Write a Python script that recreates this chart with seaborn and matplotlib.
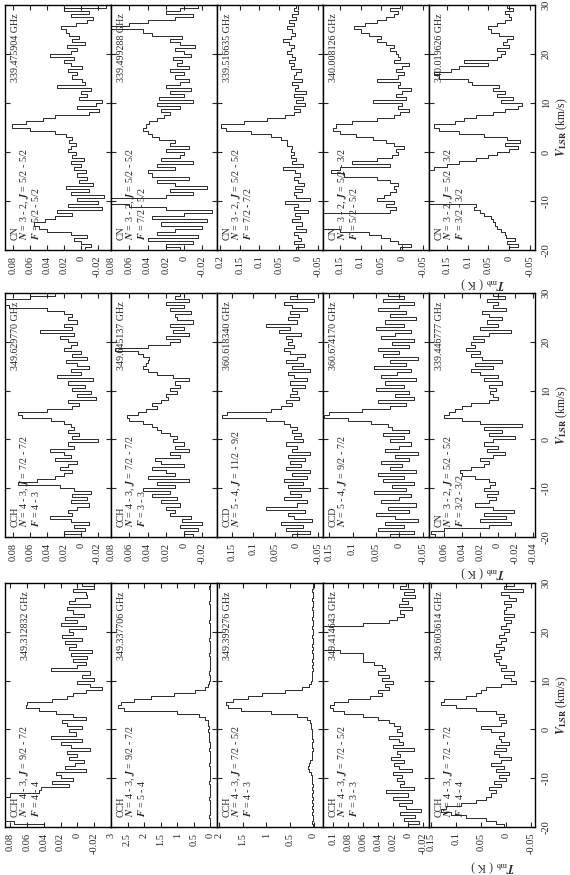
import numpy as np
import matplotlib
matplotlib.use('Agg')
import matplotlib.pyplot as plt
from matplotlib.ticker import FixedLocator, FixedFormatter
import seaborn as sns

sns.set_theme(style='ticks')
plt.rcParams['font.family'] = ['Liberation Serif', 'DejaVu Serif']
plt.rcParams['mathtext.fontset'] = 'stix'

# channel edges in V_LSR (km/s), 0.625 km/s channels
v_edges = np.linspace(-20, 30, 81)

# ---- spectra (Tmb, K), one value per channel, from -20 km/s upward ----
# right column of the original figure (CN)
cn_339475904 = [-0.005, -0.012, 0.000, 0.008, -0.008, 0.012, 0.040, 0.050,
                0.055, 0.042, 0.030, 0.010, 0.028, -0.025, 0.015, -0.020,
                0.005, -0.028, 0.012, -0.010, 0.018, -0.015, 0.002, -0.008,
                0.004, -0.006, 0.008, 0.000, 0.012, -0.004, 0.010, 0.006,
                0.015, 0.012, 0.006, 0.014, 0.010, 0.018, 0.030, 0.060,
                0.082, 0.065, 0.045, 0.030, -0.010, -0.022, 0.005, -0.018,
                -0.025, 0.002, -0.008, 0.000, -0.012, 0.028, -0.005, -0.002,
                0.010, 0.005, 0.015, -0.002, 0.012, 0.020, 0.008, 0.036,
                0.012, 0.005, 0.016, -0.005, 0.010, 0.002, 0.014, 0.018,
                0.024, 0.006, -0.008, -0.015, 0.012, -0.010, 0.020, -0.030]
cn_339499288 = [0.005, 0.020, -0.010, 0.040, -0.015, 0.030, 0.010, -0.020,
                0.025, -0.025, 0.035, 0.000, -0.030, 0.020, 0.060, 0.095,
                0.090, 0.020, -0.010, 0.015, -0.025, 0.010, 0.030, -0.005,
                0.035, 0.040, 0.010, 0.030, -0.010, 0.025, 0.005, 0.000,
                0.020, -0.005, 0.015, 0.010, 0.028, 0.035, 0.040, 0.045,
                0.042, 0.038, 0.030, 0.022, 0.015, 0.025, 0.005, 0.030,
                -0.010, 0.028, 0.000, 0.015, -0.008, 0.020, 0.005, -0.005,
                0.010, 0.000, 0.015, -0.005, 0.008, 0.002, 0.012, -0.008,
                0.000, 0.010, -0.012, 0.005, 0.015, 0.002, 0.035, 0.045,
                0.095, 0.060, 0.040, 0.010, -0.010, 0.020, 0.005, -0.015]
cn_339516635 = [0.005, -0.015, 0.010, -0.008, 0.000, 0.012, -0.020, 0.005,
                -0.010, 0.015, -0.005, 0.008, -0.025, 0.010, 0.000, 0.035,
                -0.030, 0.005, 0.012, -0.010, 0.008, -0.015, 0.002, 0.010,
                -0.005, 0.008, 0.040, -0.012, 0.015, 0.005, 0.018, 0.010,
                0.020, 0.015, 0.028, 0.030, 0.045, 0.070, 0.120, 0.185,
                0.198, 0.140, 0.080, 0.035, 0.010, -0.005, 0.012, -0.018,
                0.005, -0.012, 0.010, -0.020, 0.008, 0.000, 0.015, -0.010,
                0.012, 0.005, -0.008, 0.020, 0.010, 0.025, 0.008, 0.015,
                0.030, 0.018, 0.010, 0.025, 0.040, 0.020, 0.008, 0.015,
                0.030, 0.010, 0.025, 0.005, 0.015, 0.000, 0.010, 0.005]
cn_340008126 = [0.005, -0.020, 0.010, 0.030, 0.050, 0.080, 0.150, 0.260,
                0.260, 0.260, 0.260, 0.260, 0.030, 0.015, 0.040, 0.020,
                0.060, 0.045, 0.030, 0.015, 0.020, 0.010, 0.030, 0.060,
                0.140, 0.170, 0.150, 0.030, 0.120, 0.060, 0.025, 0.010,
                0.015, -0.005, 0.020, 0.040, 0.070, 0.110, 0.150, 0.165,
                0.160, 0.120, 0.060, 0.020, 0.005, -0.015, 0.010, 0.000,
                0.070, -0.010, 0.015, 0.000, -0.020, 0.010, 0.005, 0.060,
                0.010, -0.005, 0.015, 0.000, -0.015, 0.020, 0.005, 0.010,
                0.015, 0.030, 0.020, 0.040, 0.060, 0.050, 0.080, 0.100,
                0.115, 0.090, 0.060, 0.040, 0.020, 0.010, 0.030, 0.005]
cn_340019626 = [0.000, -0.020, 0.005, -0.015, 0.008, 0.010, 0.020, 0.030,
                0.035, 0.040, 0.045, 0.060, 0.070, 0.085, 0.080, 0.260,
                0.260, 0.260, 0.260, 0.260, 0.260, 0.260, 0.260, 0.260,
                0.260, 0.260, 0.180, 0.150, 0.120, 0.080, 0.050, 0.030,
                0.000, -0.020, 0.010, -0.025, 0.005, 0.060, 0.120, 0.170,
                0.180, 0.130, 0.110, 0.080, 0.040, 0.010, -0.020, -0.030,
                0.020, -0.010, 0.030, 0.010, 0.040, 0.025, 0.090, 0.100,
                0.170, 0.180, 0.140, 0.120, 0.050, 0.110, 0.030, 0.020,
                0.010, 0.030, 0.000, 0.015, 0.005, -0.010, 0.025, 0.045,
                0.050, 0.030, 0.010, -0.005, 0.000, 0.010, -0.010, 0.005]

# middle column
cch_349629770 = [0.000, 0.020, -0.005, 0.008, -0.010, 0.012, 0.036, 0.010,
                 0.015, 0.005, -0.010, 0.012, -0.008, 0.010, -0.012, 0.008,
                 0.025, 0.074, 0.052, 0.030, 0.020, 0.010, 0.025, 0.015,
                 0.005, 0.030, 0.012, 0.020, 0.036, 0.008, 0.015, -0.020,
                 0.010, 0.002, 0.015, 0.008, 0.012, 0.020, 0.035, 0.070,
                 0.075, 0.040, 0.010, 0.002, 0.015, -0.018, 0.005, -0.012,
                 0.010, -0.005, 0.015, -0.015, 0.028, 0.000, 0.012, -0.010,
                 0.005, 0.018, -0.008, 0.010, 0.000, 0.020, 0.012, 0.005,
                 0.015, 0.025, 0.008, 0.048, 0.010, 0.020, 0.005, 0.015,
                 0.010, 0.020, 0.040, 0.085, 0.095, 0.095, 0.060, 0.030]
cch_349645137 = [-0.010, 0.000, -0.015, 0.005, -0.020, 0.002, -0.008, 0.015,
                 0.010, 0.020, 0.005, 0.025, 0.008, 0.035, 0.015, 0.045,
                 0.010, 0.030, -0.005, 0.040, 0.010, 0.020, 0.035, 0.000,
                 0.025, 0.032, 0.005, 0.015, -0.005, 0.010, 0.000, 0.012,
                 0.008, 0.015, 0.025, 0.030, 0.035, 0.045, 0.060, 0.063,
                 0.050, 0.042, 0.030, 0.035, 0.025, 0.018, 0.020, 0.008,
                 0.015, 0.005, 0.010, -0.005, 0.012, 0.030, 0.040, 0.045,
                 0.042, 0.040, 0.038, 0.045, 0.050, 0.076, 0.040, 0.015,
                 0.005, 0.020, -0.005, 0.012, 0.000, 0.015, -0.010, 0.008,
                 0.010, -0.008, 0.015, 0.000, 0.020, -0.005, 0.010, 0.005]
ccd_360618340 = [0.010, -0.030, 0.025, -0.015, 0.035, -0.035, 0.005, 0.020,
                 -0.020, 0.070, 0.000, -0.025, 0.030, -0.010, 0.015, -0.030,
                 0.020, -0.015, 0.030, -0.025, 0.010, -0.030, 0.025, -0.010,
                 0.015, -0.020, 0.020, -0.030, 0.010, 0.000, 0.025, -0.015,
                 0.005, -0.010, 0.010, 0.000, 0.015, 0.030, 0.070, 0.173,
                 0.160, 0.060, 0.035, 0.010, 0.025, -0.005, 0.015, 0.000,
                 0.010, -0.020, 0.015, -0.025, 0.005, 0.020, -0.030, 0.010,
                 -0.015, 0.025, 0.000, -0.020, 0.015, 0.030, 0.005, 0.020,
                 0.010, 0.025, -0.010, 0.040, 0.015, 0.070, 0.000, 0.020,
                 -0.005, 0.015, -0.025, 0.010, 0.030, -0.040, 0.015, 0.000]
ccd_360674170 = [0.020, -0.030, 0.045, -0.010, 0.030, -0.040, 0.010, 0.050,
                 -0.020, 0.025, -0.035, 0.040, 0.000, -0.025, 0.055, -0.015,
                 0.015, -0.030, 0.035, -0.010, 0.045, -0.035, 0.020, -0.005,
                 0.040, -0.020, 0.010, -0.040, 0.030, 0.000, -0.025, 0.020,
                 -0.010, 0.035, -0.020, 0.015, 0.025, 0.060, 0.110, 0.160,
                 0.150, 0.080, 0.020, -0.015, 0.045, -0.030, 0.010, -0.020,
                 0.050, -0.010, 0.030, -0.035, 0.040, 0.005, -0.025, 0.055,
                 -0.015, 0.020, -0.040, 0.035, 0.000, 0.045, -0.020, 0.015,
                 -0.030, 0.040, 0.010, -0.025, 0.050, -0.010, 0.030, -0.035,
                 0.020, -0.015, 0.045, 0.000, -0.030, 0.035, -0.010, 0.025]
cn_339446777 = [0.070, 0.075, 0.060, 0.010, -0.015, 0.020, -0.010, 0.015,
                -0.018, 0.005, 0.025, 0.010, 0.002, 0.012, 0.000, 0.015,
                0.008, 0.003, 0.010, 0.025, 0.040, 0.042, 0.030, 0.015,
                0.010, 0.020, 0.005, -0.008, 0.012, 0.000, 0.015, 0.005,
                -0.020, 0.010, -0.005, 0.015, -0.027, 0.020, 0.040, 0.060,
                0.055, 0.048, 0.040, 0.030, 0.010, 0.000, 0.005, 0.008,
                0.002, 0.010, -0.005, 0.015, 0.000, 0.020, 0.030, 0.005,
                0.025, -0.005, 0.018, 0.030, 0.020, 0.035, 0.025, 0.030,
                0.015, 0.028, 0.010, -0.015, 0.020, 0.000, 0.012, -0.005,
                0.010, 0.018, -0.010, 0.005, 0.000, 0.012, -0.008, 0.005]

# left column (CCH)
cch_349312832 = [0.040, 0.075, 0.300, 1.200, 2.500, 2.800, 2.400, 1.500,
                 0.600, 0.200, 0.080, 0.045, 0.043, 0.010, 0.030, 0.005,
                 0.020, 0.025, -0.010, 0.015, 0.003, -0.008, 0.010, 0.000,
                 0.012, -0.015, 0.008, 0.020, -0.005, 0.031, 0.002, 0.010,
                 -0.005, 0.012, 0.018, -0.010, 0.005, 0.025, 0.045, 0.061,
                 0.060, 0.030, 0.012, 0.005, -0.010, -0.029, -0.015, 0.000,
                 -0.020, -0.005, -0.015, 0.031, 0.000, -0.010, 0.005, -0.012,
                 0.008, -0.018, 0.010, 0.002, 0.015, -0.005, 0.018, 0.005,
                 0.010, -0.010, 0.020, 0.000, 0.015, -0.008, 0.005, 0.012,
                 -0.015, 0.010, 0.003, -0.012, -0.010, 0.005, -0.020, -0.005]
cch_349337706 = [0.02, 0.01, 0.02, 0.03, 0.02, 0.02, 0.01, 0.02,
                 0.02, 0.03, 0.02, 0.02, 0.01, 0.02, 0.03, 0.02,
                 0.02, 0.01, 0.02, 0.02, 0.03, 0.02, 0.02, 0.01,
                 0.02, 0.03, 0.02, 0.02, 0.03, 0.04, 0.05, 0.06,
                 0.05, 0.06, 0.08, 0.15, 0.35, 1.00, 2.60, 2.80,
                 2.70, 2.30, 1.80, 1.10, 0.45, 0.15, 0.06, 0.03,
                 0.02, 0.02, 0.03, 0.02, 0.02, 0.01, 0.02, 0.02,
                 0.03, 0.02, 0.02, 0.01, 0.02, 0.03, 0.02, 0.02,
                 0.02, 0.01, 0.02, 0.03, 0.02, 0.02, 0.01, 0.02,
                 0.02, 0.03, 0.02, 0.02, 0.01, 0.02, 0.03, 0.02]
cch_349399276 = [0.02, 0.03, 0.02, 0.02, 0.03, 0.02, 0.03, 0.02,
                 0.03, 0.02, 0.03, 0.02, 0.03, 0.02, 0.03, 0.03,
                 0.04, 0.06, 0.09, 0.11, 0.10, 0.07, 0.04, 0.03,
                 0.03, 0.02, 0.03, 0.03, 0.02, 0.03, 0.04, 0.04,
                 0.05, 0.05, 0.08, 0.15, 0.35, 0.90, 1.55, 1.82,
                 1.85, 1.70, 1.40, 1.10, 0.60, 0.25, 0.10, 0.06,
                 0.04, 0.03, 0.03, 0.02, 0.03, 0.02, 0.03, 0.02,
                 0.02, 0.03, 0.02, 0.03, 0.02, 0.02, 0.03, 0.02,
                 0.02, 0.03, 0.02, 0.02, 0.03, 0.02, 0.02, 0.03,
                 0.02, 0.02, 0.03, 0.02, 0.02, 0.03, 0.02, 0.02]
cch_349414643 = [0.000, -0.015, 0.005, -0.010, 0.010, -0.018, 0.002, 0.012,
                 -0.005, 0.020, 0.000, 0.029, -0.008, 0.010, 0.005, 0.015,
                 0.008, 0.020, -0.005, 0.012, 0.018, 0.005, 0.022, 0.010,
                 0.015, -0.008, 0.020, 0.006, 0.012, 0.025, 0.008, 0.015,
                 0.010, 0.018, 0.025, 0.040, 0.060, 0.085, 0.100, 0.104,
                 0.098, 0.080, 0.050, 0.035, 0.040, 0.025, 0.030, 0.020,
                 0.035, 0.025, 0.040, 0.030, 0.035, 0.045, 0.060, 0.060,
                 0.060, 0.090, 0.300, 0.800, 1.300, 1.700, 1.800, 1.500,
                 0.900, 0.300, 0.060, 0.025, 0.015, 0.005, 0.010, -0.005,
                 0.012, 0.000, 0.008, -0.010, 0.005, -0.008, 0.010, 0.002]
cch_349603614 = [0.005, 0.020, 0.040, 0.080, 0.110, 0.130, 0.120, 0.090,
                 0.060, 0.040, 0.030, 0.020, 0.035, 0.010, 0.025, 0.000,
                 0.015, -0.005, 0.020, 0.005, 0.030, 0.010, -0.010, 0.015,
                 0.025, 0.000, 0.020, -0.005, 0.010, 0.015, 0.005, 0.030,
                 0.050, 0.010, 0.000, 0.015, 0.005, 0.020, 0.060, 0.100,
                 0.130, 0.125, 0.080, 0.060, 0.050, 0.040, 0.010, -0.020,
                 -0.010, 0.005, -0.015, 0.010, 0.000, 0.015, 0.020, 0.010,
                 0.025, 0.015, 0.005, 0.020, 0.010, 0.000, 0.015, 0.005,
                 -0.005, 0.010, 0.000, -0.010, 0.005, -0.015, 0.005, 0.000,
                 -0.010, 0.005, -0.020, -0.005, 0.010, -0.033, 0.005, -0.015]

# ---- labels ----
freqs = [['339.475904 GHz', '339.499288 GHz', '339.516635 GHz', '340.008126 GHz', '340.019626 GHz'],
         ['349.629770 GHz', '349.645137 GHz', '360.618340 GHz', '360.674170 GHz', '339.446777 GHz'],
         ['349.312832 GHz', '349.337706 GHz', '349.399276 GHz', '349.414643 GHz', '349.603614 GHz']]
species = [['CN'] * 5,
           ['CCH', 'CCH', 'CCD', 'CCD', 'CN'],
           ['CCH'] * 5]
NJ = r'$\mathbfit{N}$ = %s, $\mathbfit{J}$ = %s'
qnums = [[NJ % ('3 - 2', '5/2 - 5/2')] * 3 + [NJ % ('3 - 2', '5/2 - 3/2')] * 2,
         [NJ % ('4 - 3', '7/2 - 7/2')] * 2 + [NJ % ('5 - 4', '11/2 - 9/2'),
                                              NJ % ('5 - 4', '9/2 - 7/2'),
                                              NJ % ('3 - 2', '5/2 - 5/2')],
         [NJ % ('4 - 3', '9/2 - 7/2')] * 2 + [NJ % ('4 - 3', '7/2 - 5/2')] * 2
         + [NJ % ('4 - 3', '7/2 - 7/2')]]
hfs = [['5/2 - 5/2', '7/2 - 5/2', '7/2 - 7/2', '5/2 - 5/2', '3/2 - 3/2'],
       ['4 - 3', '3 - 3', None, None, '3/2 - 3/2'],
       ['4 - 4', '5 - 4', '4 - 3', '3 - 3', '4 - 4']]

spectra = [[cn_339475904, cn_339499288, cn_339516635, cn_340008126, cn_340019626],
           [cch_349629770, cch_349645137, ccd_360618340, ccd_360674170, cn_339446777],
           [cch_349312832, cch_349337706, cch_349399276, cch_349414643, cch_349603614]]

# intensity axis ranges and ticks
t_lims = [[(-0.036, 0.09), (-0.036, 0.08), (-0.063, 0.208), (-0.064, 0.19), (-0.062, 0.193)],
          [(-0.036, 0.09), (-0.036, 0.08), (-0.061, 0.184), (-0.063, 0.163), (-0.042, 0.077)],
          [(-0.04, 0.086), (-0.2, 3.0), (-0.2, 2.05), (-0.028, 0.113), (-0.058, 0.154)]]
t_ticks = [[[0.08, 0.06, 0.04, 0.02, 0, -0.02], [0.08, 0.06, 0.04, 0.02, 0, -0.02],
            [0.2, 0.15, 0.1, 0.05, 0, -0.05], [0.15, 0.1, 0.05, 0, -0.05], [0.15, 0.1, 0.05, 0, -0.05]],
           [[0.08, 0.06, 0.04, 0.02, 0, -0.02], [0.08, 0.06, 0.04, 0.02, 0, -0.02],
            [0.15, 0.1, 0.05, 0, -0.05], [0.15, 0.1, 0.05, 0, -0.05],
            [0.06, 0.04, 0.02, 0, -0.02, -0.04]],
           [[0.08, 0.06, 0.04, 0.02, 0, -0.02], [3, 2.5, 2, 1.5, 1, 0.5, 0],
            [2, 1.5, 1, 0.5, 0], [0.1, 0.08, 0.06, 0.04, 0.02, 0, -0.02],
            [0.15, 0.1, 0.05, 0, -0.05]]]
v_ticks = [-20, -10, 0, 10, 20, 30]

# ---- layout (pixels of the 570x875 canvas) ----
W, H = 570, 875
col_x = [5, 111, 217, 323, 429]
pw = 106
blocks = [(5, 250), (293, 537), (583, 827)]
tmb_pos = [(483, 283), (483, 572), (493, 866)]

fig = plt.figure(figsize=(W / 100, H / 100), dpi=100)
fs_tick = 7.5
fs_txt = 7.2

for b, (y0, y1) in enumerate(blocks):
    for c in range(5):
        ax = fig.add_axes([col_x[c] / W, 1 - y1 / H, pw / W, (y1 - y0) / H])
        vals = np.asarray(spectra[b][c])
        ys = np.column_stack([v_edges[:-1], v_edges[1:]]).ravel()
        xs = np.repeat(vals, 2)
        sns.lineplot(x=xs, y=ys, sort=False, estimator=None, ax=ax,
                     color='#1a1a1a', lw=0.65)
        lo, hi = t_lims[b][c]
        ax.set_xlim(hi, lo)
        ax.set_ylim(-20, 30)
        ax.set_xlabel('')
        ax.set_ylabel('')
        ticks = t_ticks[b][c]
        ax.xaxis.set_major_locator(FixedLocator(ticks))
        ax.xaxis.set_major_formatter(FixedFormatter(['%g' % t for t in ticks]))
        ax.yaxis.set_major_locator(FixedLocator(v_ticks))
        ax.yaxis.set_major_formatter(FixedFormatter([str(t) for t in v_ticks]))
        ax.tick_params(axis='x', direction='in', bottom=True, top=True,
                       length=3.5, width=0.8, labelsize=fs_tick,
                       labelrotation=90, pad=4)
        last = c == 4
        ax.tick_params(axis='y', direction='in', left=True, right=True,
                       length=3.5, width=0.8, labelsize=fs_tick,
                       labelleft=False, labelright=last, labelrotation=90, pad=5)
        if last:
            for t in ax.yaxis.get_major_ticks():
                t.label2.set_va('center')
        for s in ax.spines.values():
            s.set_linewidth(1.0)
            s.set_color('black')

        # transition label block (species / quantum numbers / hyperfine)
        lines = [species[b][c], qnums[b][c]]
        if hfs[b][c]:
            lines.append(r'$\mathbfit{F}$ = ' + hfs[b][c])
        ax.text(0.05, 0.04, '\n'.join(lines), rotation=90, transform=ax.transAxes,
                fontsize=fs_txt, ha='left', va='bottom', multialignment='left',
                linespacing=0.92)
        fx = 0.19 if (b, c) == (2, 0) else 0.10
        ax.text(fx, 0.965, freqs[b][c], rotation=90, transform=ax.transAxes,
                fontsize=fs_txt, ha='center', va='top')

    # axis titles for each block
    fig.text(562 / W, 1 - (y0 + y1) / 2 / H, r'$\mathbfit{V}_{\mathbf{LSR}}$ (km/s)',
             rotation=90, ha='center', va='center', fontsize=8.5)
    tx, ty = tmb_pos[b]
    fig.text(tx / W, 1 - ty / H, r'$\mathbfit{T}_{\rm mb}$ ( K )',
             rotation=180, ha='center', va='center', fontsize=8.5)

fig.savefig('out.png', dpi=100)
